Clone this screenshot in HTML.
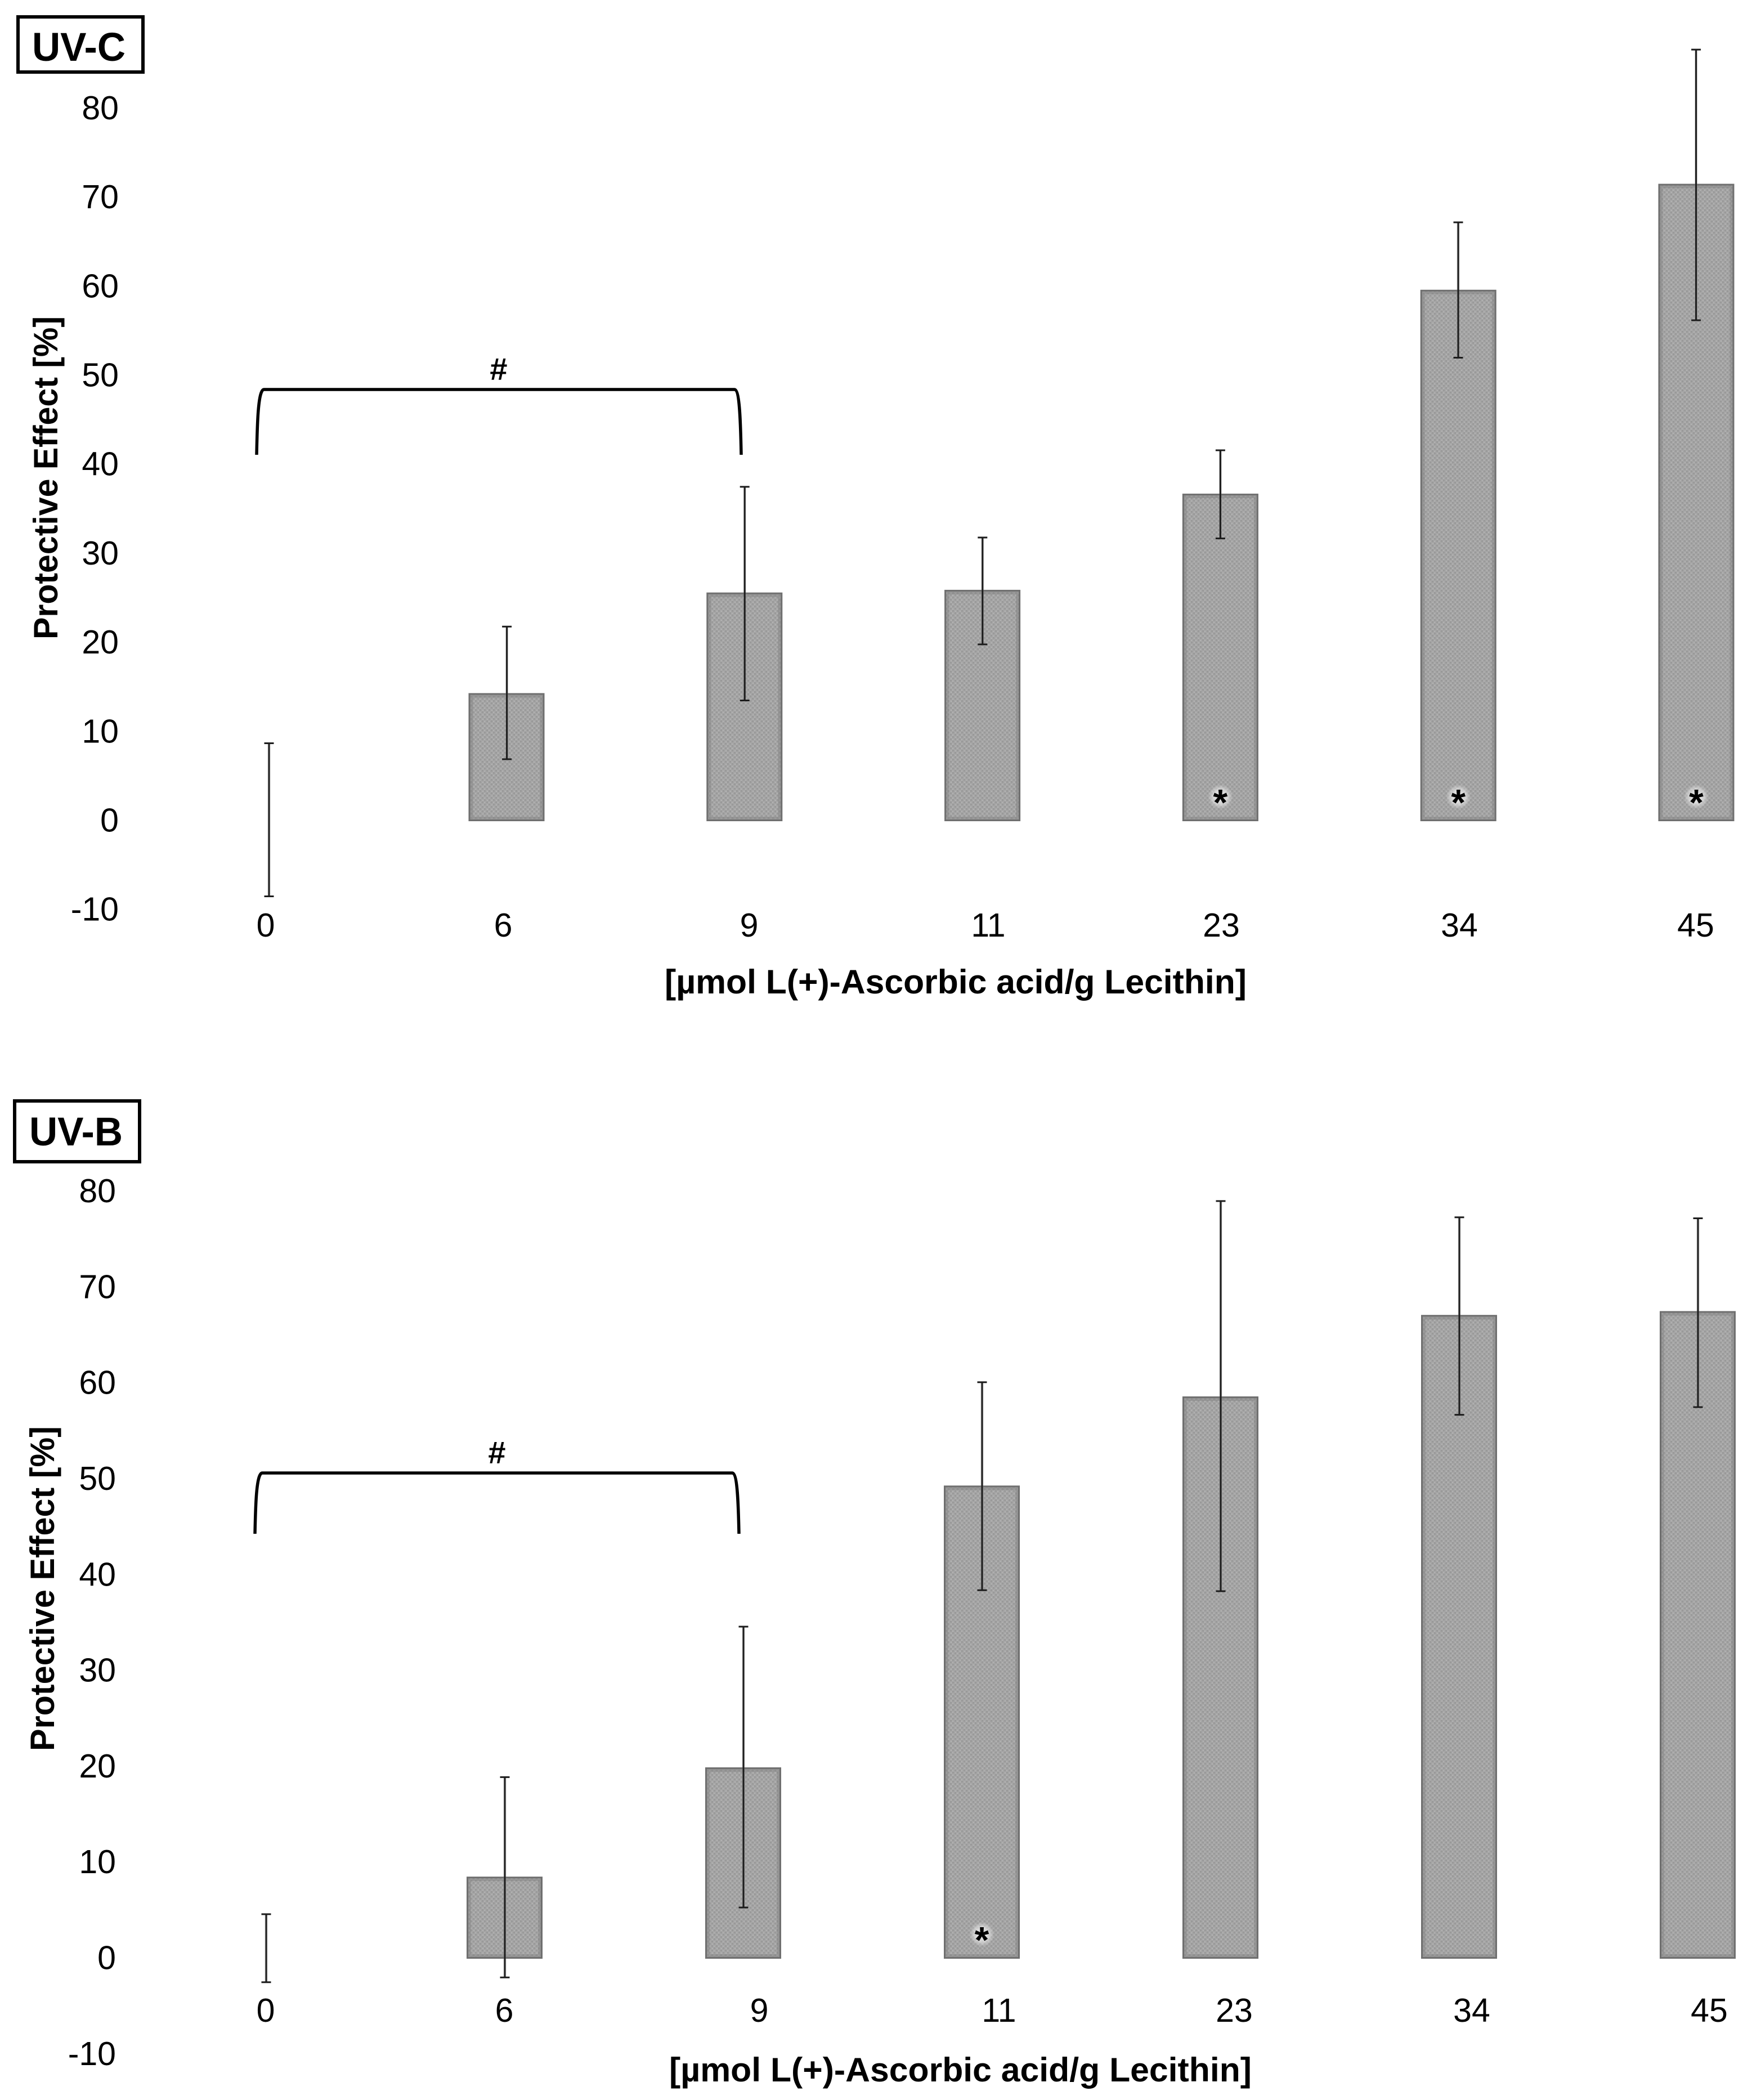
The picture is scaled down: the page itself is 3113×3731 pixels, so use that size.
<!DOCTYPE html>
<html lang="en">
<head>
<meta charset="utf-8">
<title>Protective Effect of L(+)-Ascorbic acid under UV-C and UV-B</title>
<style>
html,body{margin:0;padding:0;background:#fff;}
svg{display:block;}
text{font-family:"Liberation Sans",sans-serif;fill:#000;}
.tick{font-size:59px;}
.title{font-size:60px;font-weight:bold;}
.badge{font-size:71px;font-weight:bold;}
.hash{font-size:56px;font-weight:bold;}
</style>
</head>
<body>
<svg id="figure" xmlns="http://www.w3.org/2000/svg" width="3113" height="3731" viewBox="0 0 3113 3731">
  <defs>
    <pattern id="grain" width="8" height="8" patternUnits="userSpaceOnUse">
      <rect width="8" height="8" fill="#a6a6a6"/>
      <rect x="0" y="0" width="3" height="3" fill="#999"/>
      <rect x="4" y="4" width="3" height="3" fill="#999"/>
      <rect x="4" y="1" width="2" height="2" fill="#b2b2b2"/>
      <rect x="1" y="5" width="2" height="2" fill="#b2b2b2"/>
    </pattern>
    <radialGradient id="halo">
      <stop offset="0" stop-color="#fff" stop-opacity="0.9"/>
      <stop offset="0.6" stop-color="#fff" stop-opacity="0.5"/>
      <stop offset="1" stop-color="#fff" stop-opacity="0"/>
    </radialGradient>
  </defs>
  <rect width="3113" height="3731" fill="#fff"/>

  <g id="uvc">
    <rect x="32" y="30" width="222" height="98" fill="#fff" stroke="#000" stroke-width="6"/>
    <text class="badge" x="57" y="108" textLength="166" lengthAdjust="spacingAndGlyphs">UV-C</text>
    <text class="title" transform="translate(102,1136) rotate(-90)" textLength="574" lengthAdjust="spacingAndGlyphs">Protective Effect [%]</text>
    <text class="title" x="1181" y="1765" textLength="1034" lengthAdjust="spacingAndGlyphs">[µmol L(+)-Ascorbic acid/g Lecithin]</text>
    <path d="M456 808 C457 760 458 692 469 692 L1305 692 C1315 692 1316 760 1317 808" fill="none" stroke="#000" stroke-width="5.5"/>
    <text class="hash" x="886" y="675" text-anchor="middle">#</text>
    <g class="tick" text-anchor="middle">
      <text class="tick" x="472" y="1664">0</text>
      <text class="tick" x="894" y="1664">6</text>
      <text class="tick" x="1331" y="1664">9</text>
      <text class="tick" x="1756" y="1664">11</text>
      <text class="tick" x="2170" y="1664">23</text>
      <text class="tick" x="2593" y="1664">34</text>
      <text class="tick" x="3013" y="1664">45</text>
    </g>
  </g>

  <g id="uvb">
    <rect x="26" y="1956" width="222" height="108" fill="#fff" stroke="#000" stroke-width="6"/>
    <text class="badge" x="52" y="2035" textLength="166" lengthAdjust="spacingAndGlyphs">UV-B</text>
    <text class="title" transform="translate(96,3111) rotate(-90)" textLength="577" lengthAdjust="spacingAndGlyphs">Protective Effect [%]</text>
    <text class="title" x="1189" y="3698" textLength="1035" lengthAdjust="spacingAndGlyphs">[µmol L(+)-Ascorbic acid/g Lecithin]</text>
    <path d="M453 2725 C454 2680 455 2617 466 2617 L1301 2617 C1311 2617 1312 2680 1313 2725" fill="none" stroke="#000" stroke-width="5.5"/>
    <text class="hash" x="883" y="2600" text-anchor="middle">#</text>
    <g class="tick" text-anchor="middle">
      <text class="tick" x="472" y="3592">0</text>
      <text class="tick" x="896" y="3592">6</text>
      <text class="tick" x="1349" y="3592">9</text>
      <text class="tick" x="1775" y="3592">11</text>
      <text class="tick" x="2193" y="3592">23</text>
      <text class="tick" x="2615" y="3592">34</text>
      <text class="tick" x="3037" y="3592">45</text>
    </g>
  </g>
</svg>
<script>
var categories = ["0", "6", "9", "11", "23", "34", "45"];
var yTickLabels = [80, 70, 60, 50, 40, 30, 20, 10, 0, -10];

var uvcValues  = [0, 14.1, 25.4, 25.7, 36.5, 59.4, 71.3];
var uvcErrHigh = [8.6, 21.7, 37.4, 31.7, 41.5, 67.1, 86.5];
var uvcErrLow  = [-8.6, 6.8, 13.4, 19.7, 31.6, 51.9, 56.1];
var uvcStars   = [0, 0, 0, 0, 1, 1, 1];

var uvbValues  = [0, 8.3, 19.7, 49.1, 58.4, 66.9, 67.3];
var uvbErrHigh = [4.5, 18.8, 34.5, 60.0, 78.9, 77.2, 77.1];
var uvbErrLow  = [-2.6, -2.1, 5.2, 38.3, 38.2, 56.6, 57.4];
var uvbStars   = [0, 0, 0, 1, 0, 0, 0];

var SVG_NS = "http://www.w3.org/2000/svg";

function make(parent, tag, attrs) {
  var el = document.createElementNS(SVG_NS, tag);
  for (var k in attrs) { el.setAttribute(k, attrs[k]); }
  parent.appendChild(el);
  return el;
}

function drawPanel(cfg) {
  var root = document.getElementById(cfg.id);
  function y(v) { return cfg.zeroY - v * cfg.unit; }
  function xBar(i) { return cfg.barStart + (i - 1) * cfg.barStep; }
  function xErr(i) { return cfg.errStart + i * cfg.errStep; }

  yTickLabels.forEach(function (t) {
    var el = make(root, "text", { x: cfg.tickRight, y: y(t) + 21, "text-anchor": "end", "class": "tick" });
    el.textContent = String(t);
    
    
  });

  categories.forEach(function (c, i) {
    var v = cfg.values[i];
    if (v > 0) {
      var bar = make(root, "rect", {
        x: xBar(i) - 66, y: y(v) - 0.5, width: 132, height: y(0) - y(v) + 1.5,
        fill: "url(#grain)", stroke: "#6f6f6f", "stroke-width": 3
      });
      
      
      var edge = make(root, "rect", {
        x: xBar(i) - 62, y: y(v) + 3.5, width: 124, height: y(0) - y(v) - 6.5,
        fill: "none", stroke: "#808080", "stroke-width": 5, "stroke-opacity": 0.45
      });
      
      
    }
    var ex = xErr(i);
    var halo = make(root, "line", { x1: ex, x2: ex, y1: y(cfg.errHigh[i]), y2: y(cfg.errLow[i]), stroke: "#888", "stroke-width": 5, "stroke-opacity": 0.35 });
    
    
    var line = make(root, "line", { x1: ex, x2: ex, y1: y(cfg.errHigh[i]), y2: y(cfg.errLow[i]), stroke: "#1c1c1c", "stroke-width": 3 });
    
    
    var capTop = make(root, "line", { x1: ex - 8.5, x2: ex + 8.5, y1: y(cfg.errHigh[i]), y2: y(cfg.errHigh[i]), stroke: "#1c1c1c", "stroke-width": 3 });
    
    
    var capLow = make(root, "line", { x1: ex - 8.5, x2: ex + 8.5, y1: y(cfg.errLow[i]), y2: y(cfg.errLow[i]), stroke: "#1c1c1c", "stroke-width": 3 });
    
    
    if (cfg.stars[i]) {
      var glow = make(root, "circle", { cx: xBar(i), cy: y(0) - 41, r: 22, fill: "url(#halo)" });
      
      
      var star = make(root, "text", { x: xBar(i), y: y(0) - 8, "text-anchor": "middle", "font-size": 66, "font-weight": "bold" });
      star.textContent = "*";
      
      
    }
  });
}

drawPanel({
  id: "uvc", zeroY: 1456.5, unit: 15.82, tickRight: 211,
  barStart: 900, barStep: 422.8, errStart: 478, errStep: 422.6,
  values: uvcValues, errHigh: uvcErrHigh, errLow: uvcErrLow, stars: uvcStars
});
drawPanel({
  id: "uvb", zeroY: 3477.5, unit: 17.03, tickRight: 206,
  barStart: 896.5, barStep: 424, errStart: 473, errStep: 424,
  values: uvbValues, errHigh: uvbErrHigh, errLow: uvbErrLow, stars: uvbStars
});
</script>
</body>
</html>
